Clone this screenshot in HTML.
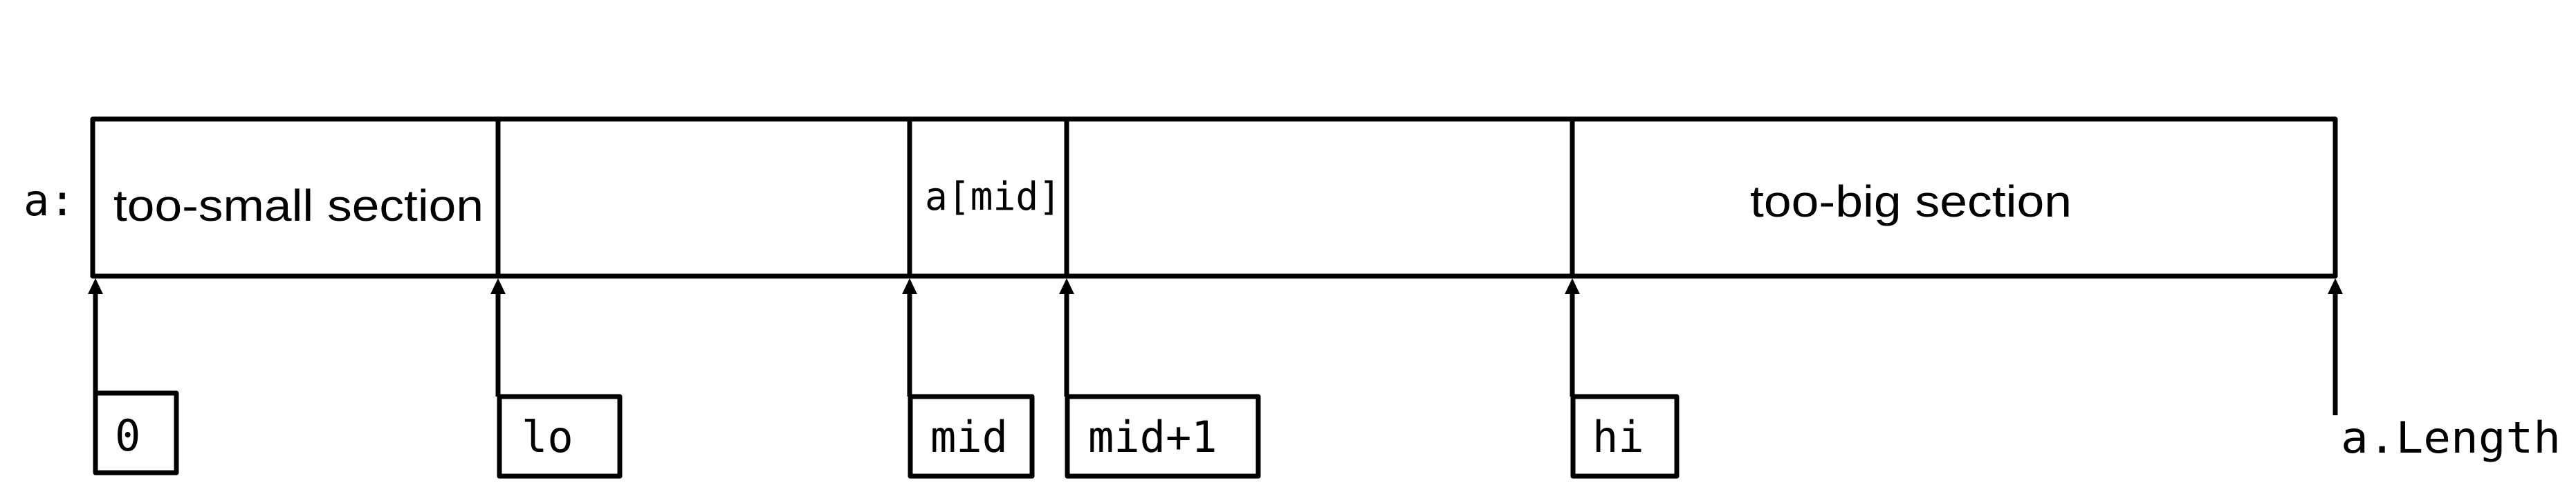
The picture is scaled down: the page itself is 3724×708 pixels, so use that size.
<!DOCTYPE html>
<html><head><meta charset="utf-8"><style>html,body{margin:0;padding:0;background:#fff}svg{display:block}</style></head>
<body>
<svg width="3724" height="708" viewBox="0 0 3724 708" xmlns="http://www.w3.org/2000/svg">
<g stroke="#000" stroke-width="7" fill="none" stroke-linejoin="round">
<rect x="134" y="172" width="3242" height="227"/>
<line x1="720" y1="172" x2="720" y2="399"/>
<line x1="1315" y1="172" x2="1315" y2="399"/>
<line x1="1542" y1="172" x2="1542" y2="399"/>
<line x1="2273" y1="172" x2="2273" y2="399"/>
<line x1="138" y1="420" x2="138" y2="568"/>
<line x1="720" y1="420" x2="720" y2="573"/>
<line x1="1315" y1="420" x2="1315" y2="573"/>
<line x1="1542" y1="420" x2="1542" y2="573"/>
<line x1="2273" y1="420" x2="2273" y2="573"/>
<line x1="3376" y1="420" x2="3376" y2="600"/>
<rect x="138" y="568" width="117" height="115"/>
<rect x="722" y="573" width="174" height="115"/>
<rect x="1316" y="573" width="176" height="115"/>
<rect x="1543" y="573" width="276" height="115"/>
<rect x="2274" y="573" width="150" height="115"/>
</g>
<g fill="#000">
<path d="M127,425 L138,402 L149,425 Z"/>
<path d="M709,425 L720,402 L731,425 Z"/>
<path d="M1304,425 L1315,402 L1326,425 Z"/>
<path d="M1531,425 L1542,402 L1553,425 Z"/>
<path d="M2262,425 L2273,402 L2284,425 Z"/>
<path d="M3365,425 L3376,402 L3387,425 Z"/>
</g>
<g font-family="'DejaVu Sans Mono','Liberation Mono',monospace" font-size="62" fill="#000">
<text x="34" y="311">a:</text>
<text x="1337" y="303" font-size="56" textLength="197" lengthAdjust="spacingAndGlyphs">a[mid]</text>
<text x="166" y="651">0</text>
<text x="754" y="653">lo</text>
<text x="1345" y="653">mid</text>
<text x="1573" y="653">mid+1</text>
<text x="2302" y="653">hi</text>
<text x="3384" y="654" textLength="318" lengthAdjust="spacingAndGlyphs">a.Length</text>
</g>
<g font-family="'Liberation Sans',Arial,sans-serif" font-size="64" fill="#000">
<text x="164" y="319" textLength="535" lengthAdjust="spacingAndGlyphs">too-small section</text>
<text x="2530" y="313" textLength="465" lengthAdjust="spacingAndGlyphs">too-big section</text>
</g>
</svg>
</body></html>
